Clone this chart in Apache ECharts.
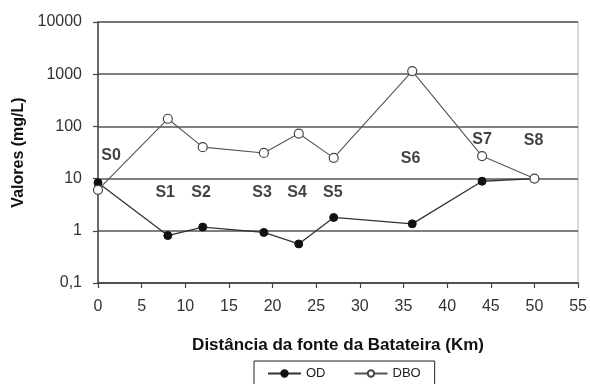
<!DOCTYPE html>
<html>
<head>
<meta charset="utf-8">
<script src="https://cdn.jsdelivr.net/npm/echarts@6/dist/echarts.min.js"></script>
<style>
  html, body { margin: 0; padding: 0; background: #fff; }
  #chart { width: 590px; height: 384px; }
</style>
</head>
<body>
<div id="chart"></div>
<script>
// Distance from the Batateira spring (km) for each sampling station
const distances = [0, 8, 12, 19, 23, 27, 36, 44, 50];
// Dissolved oxygen, OD (mg/L)
const odValues = [8.3, 0.81, 1.18, 0.93, 0.56, 1.8, 1.36, 8.9, 10];
// Biochemical oxygen demand, DBO (mg/L)
const dboValues = [6.1, 140, 40, 31, 73, 25, 1150, 27, 10];
// Station names and where each name sits (km, mg/L)
const stationNames = ['S0', 'S1', 'S2', 'S3', 'S4', 'S5', 'S6', 'S7', 'S8'];
const stationLabelX = [1.5, 7.7, 11.8, 18.8, 22.8, 26.9, 35.8, 44, 49.9];
const stationLabelY = [28, 5.4, 5.4, 5.4, 5.4, 5.4, 24, 57, 53];

const FONT = '"Liberation Sans", Arial, sans-serif';

const chart = echarts.init(document.getElementById('chart'), null, { renderer: 'canvas' });

chart.setOption({
  backgroundColor: '#ffffff',
  animation: false,
  textStyle: { fontFamily: FONT },
  grid: {
    left: 98, right: 11, top: 22, bottom: 101,
    show: true, borderColor: '#b8b8b8', borderWidth: 1, backgroundColor: 'transparent'
  },
  legend: {
    left: 254, top: 361,
    width: 180,
    padding: [6, 14, 16, 13],
    borderColor: '#222', borderWidth: 1,
    itemWidth: 33, itemHeight: 8, itemGap: 28,
    textStyle: { fontFamily: FONT, fontSize: 13, color: '#222' },
    data: ['OD', 'DBO']
  },
  xAxis: {
    type: 'value', min: 0, max: 55, interval: 5,
    name: 'Distância da fonte da Batateira (Km)',
    nameLocation: 'middle', nameGap: 54,
    nameTextStyle: { fontFamily: FONT, fontSize: 17, fontWeight: 'bold', color: '#111' },
    axisLine: { show: true, onZero: false, lineStyle: { color: '#444', width: 1.5 } },
    axisTick: { show: true, inside: false, length: 5, lineStyle: { color: '#444', width: 1.2 } },
    axisLabel: { margin: 16, fontSize: 16, color: '#333', fontFamily: FONT },
    splitLine: { show: false }
  },
  yAxis: {
    type: 'log', logBase: 10, min: 0.1, max: 10000,
    name: 'Valores (mg/L)',
    nameLocation: 'middle', nameGap: 66,
    nameTextStyle: { fontFamily: FONT, fontSize: 16, fontWeight: 'bold', color: '#111' },
    axisLine: { show: true, lineStyle: { color: '#444', width: 1.5 } },
    axisTick: { show: true, inside: false, length: 5, lineStyle: { color: '#444', width: 1.2 } },
    axisLabel: {
      margin: 16, fontSize: 16, color: '#333', fontFamily: FONT,
      formatter: v => String(v).replace('.', ',')
    },
    splitLine: { show: true, lineStyle: { color: '#555', width: 1.5 } }
  },
  series: [
    {
      name: 'OD', type: 'line',
      data: distances.map((d, i) => [d, odValues[i]]),
      symbol: 'circle', symbolSize: 8,
      itemStyle: { color: '#111', borderColor: '#111', borderWidth: 1 },
      lineStyle: { color: '#333', width: 1.3 },
      z: 3
    },
    {
      name: 'DBO', type: 'line',
      data: distances.map((d, i) => [d, dboValues[i]]),
      symbol: 'circle', symbolSize: 9,
      itemStyle: { color: '#ffffff', borderColor: '#444', borderWidth: 1.2 },
      lineStyle: { color: '#555', width: 1.1 },
      z: 4
    },
    {
      name: 'stations', type: 'scatter',
      data: stationNames.map((n, i) => ({ name: n, value: [stationLabelX[i], stationLabelY[i]] })),
      symbolSize: 0,
      silent: true,
      label: {
        show: true, position: 'inside',
        formatter: p => p.name,
        fontFamily: FONT, fontSize: 16, fontWeight: 'bold', color: '#111'
      },
      z: 5
    }
  ]
});
</script>
</body>
</html>
